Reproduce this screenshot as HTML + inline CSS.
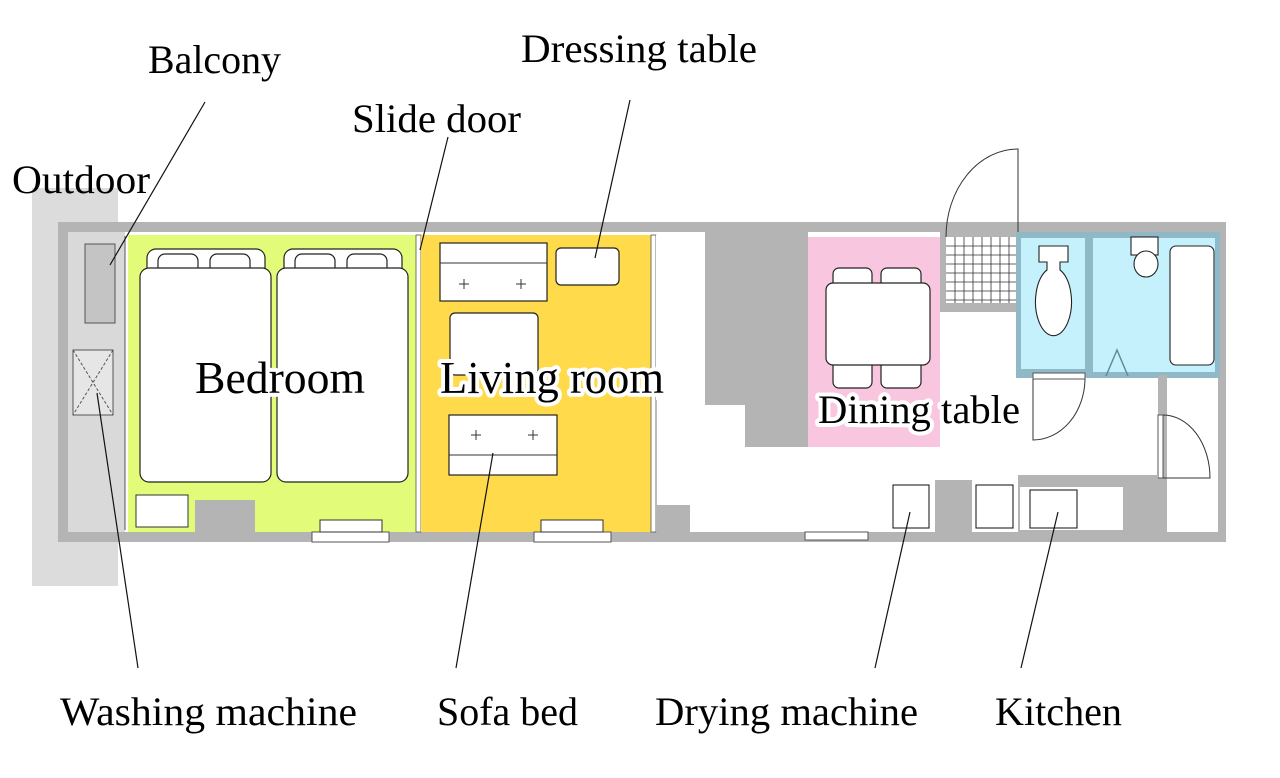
<!DOCTYPE html>
<html><head><meta charset="utf-8"><style>html,body{margin:0;padding:0;background:#fff;}svg{display:block}</style></head>
<body>
<svg width="1280" height="778" viewBox="0 0 1280 778" xmlns="http://www.w3.org/2000/svg" font-family="'Liberation Serif', serif">
<rect width="1280" height="778" fill="#fff"/>
<rect x="32" y="188" width="86" height="398" fill="#dcdcdc"/>
<rect x="58" y="222" width="1168" height="320" fill="#b4b4b4"/>
<rect x="68" y="232" width="1150" height="300" fill="#fff"/>
<rect x="68" y="232" width="57" height="300" fill="#d9d9d9"/>
<rect x="85" y="244" width="30" height="79" fill="#c4c4c4" stroke="#555" stroke-width="1"/>
<rect x="73" y="350" width="40" height="65" fill="#e6e6e6" stroke="#555" stroke-width="1"/>
<path d="M73 350 L113 415 M113 350 L73 415" stroke="#555" stroke-dasharray="3,2" stroke-width="1"/>
<line x1="125" y1="236" x2="125" y2="530" stroke="#555" stroke-width="1"/>
<rect x="128" y="235" width="288" height="297" fill="#e2fb78"/>
<rect x="195" y="500" width="60" height="32" fill="#b4b4b4"/>
<rect x="136" y="495" width="52" height="32" fill="#fff" stroke="#333"/>
<g fill="#fff" stroke="#222" stroke-width="1.2">
<rect x="147" y="249" width="118" height="30" rx="9"/>
<rect x="158" y="254" width="40" height="24" rx="7"/>
<rect x="210" y="254" width="40" height="24" rx="7"/>
<rect x="284" y="249" width="118" height="30" rx="9"/>
<rect x="295" y="254" width="40" height="24" rx="7"/>
<rect x="347" y="254" width="40" height="24" rx="7"/>
<rect x="140" y="268" width="131" height="214" rx="9"/>
<rect x="277" y="268" width="131" height="214" rx="9"/>
</g>
<rect x="416" y="235" width="5" height="297" fill="#fff" stroke="#555" stroke-width="0.8"/>
<rect x="421" y="235" width="230" height="297" fill="#ffda4a"/>
<rect x="651" y="235" width="5" height="297" fill="#fff" stroke="#555" stroke-width="0.8"/>
<g fill="#fff" stroke="#222" stroke-width="1.2">
<rect x="440" y="243" width="107" height="58"/>
<rect x="556" y="248" width="63" height="37" rx="5"/>
<rect x="450" y="313" width="88" height="62" rx="5"/>
<rect x="449" y="415" width="108" height="60"/>
</g>
<g stroke="#333" stroke-width="1">
<line x1="440" y1="263" x2="547" y2="263"/><line x1="449" y1="455" x2="557" y2="455"/>
<path d="M459 284h10M464 279v10M516 284h10M521 279v10M471 435h10M476 430v10M528 435h10M533 430v10"/>
</g>
<rect x="312" y="532" width="77" height="10" fill="#fff" stroke="#555"/>
<rect x="320" y="520" width="62" height="12" fill="#fff" stroke="#333"/>
<rect x="534" y="532" width="77" height="10" fill="#fff" stroke="#555"/>
<rect x="541" y="520" width="62" height="12" fill="#fff" stroke="#333"/>
<rect x="805" y="532" width="63" height="8" fill="#fff" stroke="#555"/>
<rect x="656" y="235" width="49" height="165" fill="#fff"/>
<rect x="705" y="232" width="40" height="173" fill="#b4b4b4"/>
<rect x="745" y="232" width="63" height="215" fill="#b4b4b4"/>
<rect x="656" y="505" width="34" height="27" fill="#b4b4b4"/>
<rect x="808" y="237" width="132" height="210" fill="#f9c6df"/>
<g fill="#fff" stroke="#222" stroke-width="1.2">
<rect x="833" y="268" width="39" height="25" rx="6"/>
<rect x="881" y="268" width="40" height="25" rx="6"/>
<rect x="833" y="358" width="39" height="30" rx="6"/>
<rect x="881" y="358" width="40" height="30" rx="6"/>
<rect x="826" y="283" width="104" height="82" rx="7"/>
</g>
<rect x="940" y="232" width="78" height="80" fill="#b4b4b4"/>
<rect x="946" y="237" width="72" height="66" fill="#fff"/>
<g stroke="#333" stroke-width="0.8">
<path d="M946 246h72M946 255h72M946 264h72M946 273h72M946 282h72M946 291h72M946 300h72"/>
<path d="M955 237v66M964 237v66M973 237v66M982 237v66M991 237v66M1000 237v66M1009 237v66"/>
</g>
<path d="M1018 237 V149 A72 88 0 0 0 946 237" fill="none" stroke="#333" stroke-width="1"/>
<rect x="1016" y="232" width="204" height="146" fill="#8fb9c6"/>
<rect x="1021" y="238" width="64" height="131" fill="#c4f1fb"/>
<rect x="1093" y="238" width="122" height="134" fill="#c4f1fb"/>
<g fill="#fff" stroke="#222" stroke-width="1.1">
<path d="M1039 246h29v16h-8v8 a18 34 0 1 1 -13 0 v-8h-8z"/>
<rect x="1131" y="237" width="27" height="18"/>
<ellipse cx="1146" cy="264" rx="12" ry="13"/>
<rect x="1170" y="246" width="44" height="119" rx="6"/>
</g>
<path d="M1106 376 L1117 350 L1128 376" fill="none" stroke="#5f8c99" stroke-width="1.5"/>
<rect x="1033" y="373" width="52" height="6" fill="#fff" stroke="#555"/>
<path d="M1033 379 V440 A52 62 0 0 0 1085 379" fill="none" stroke="#333"/>
<rect x="1158" y="375" width="9" height="157" fill="#b4b4b4"/>
<rect x="1158" y="415" width="5" height="63" fill="#fff" stroke="#555"/>
<path d="M1163 415 A47 63 0 0 1 1210 478 H1163" fill="none" stroke="#333"/>
<rect x="935" y="480" width="37" height="52" fill="#b4b4b4"/>
<rect x="1018" y="475" width="140" height="57" fill="#b4b4b4"/>
<rect x="1020" y="487" width="103" height="43" fill="#fff"/>
<g fill="#fff" stroke="#222" stroke-width="1.1">
<rect x="893" y="485" width="36" height="43"/>
<rect x="976" y="485" width="37" height="43"/>
<rect x="1030" y="490" width="47" height="38"/>
</g>
<g stroke="#111" stroke-width="1.2">
<line x1="205" y1="102" x2="110" y2="265"/>
<line x1="448" y1="137" x2="420" y2="250"/>
<line x1="630" y1="100" x2="595" y2="258"/>
<line x1="138" y1="668" x2="97" y2="393"/>
<line x1="456" y1="668" x2="493" y2="453"/>
<line x1="875" y1="668" x2="910" y2="512"/>
<line x1="1021" y1="668" x2="1058" y2="512"/>
</g>
<g font-size="40" fill="#000">
<text x="148" y="73" textLength="133" lengthAdjust="spacingAndGlyphs">Balcony</text>
<text x="521" y="62" textLength="236" lengthAdjust="spacingAndGlyphs">Dressing table</text>
<text x="352" y="132" textLength="169" lengthAdjust="spacingAndGlyphs">Slide door</text>
<text x="12" y="193" textLength="138" lengthAdjust="spacingAndGlyphs">Outdoor</text>
<text x="60" y="725" textLength="297" lengthAdjust="spacingAndGlyphs">Washing machine</text>
<text x="437" y="725" textLength="141" lengthAdjust="spacingAndGlyphs">Sofa bed</text>
<text x="655" y="725" textLength="263" lengthAdjust="spacingAndGlyphs">Drying machine</text>
<text x="995" y="725" textLength="127" lengthAdjust="spacingAndGlyphs">Kitchen</text>
</g>
<g font-size="46" fill="#000" stroke="#fff" stroke-width="8" stroke-linejoin="round" paint-order="stroke">
<text x="195" y="393" textLength="170" lengthAdjust="spacingAndGlyphs">Bedroom</text>
<text x="440" y="393" textLength="224" lengthAdjust="spacingAndGlyphs">Living room</text>
<text x="818" y="423" font-size="40" textLength="202" lengthAdjust="spacingAndGlyphs">Dining table</text>
</g>
</svg>
</body></html>
